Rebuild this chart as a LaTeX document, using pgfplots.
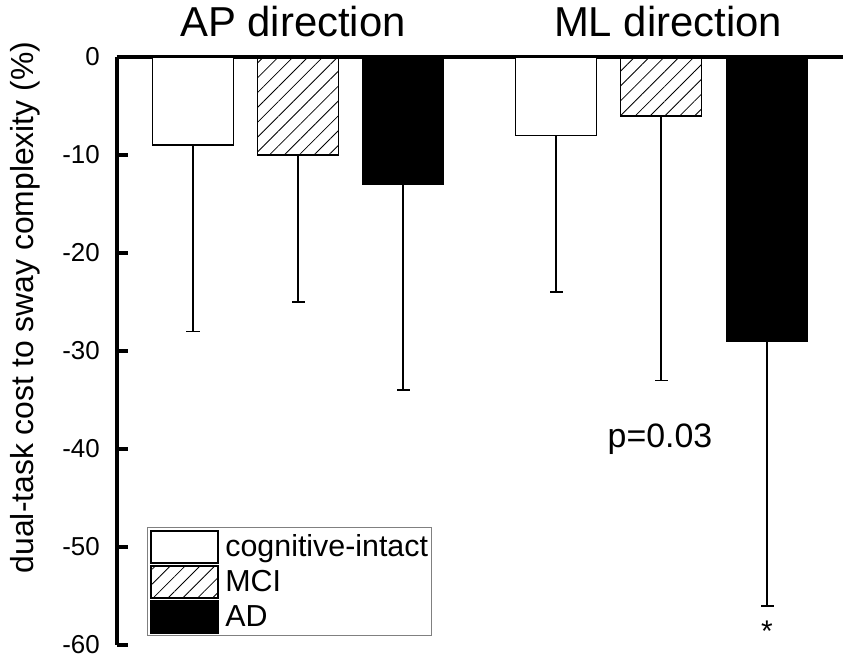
\documentclass[border=0pt]{standalone}
\usepackage{fontspec}
\setmainfont{Liberation Sans}
\usepackage{pgfplots}
\pgfplotsset{compat=1.18}
\usetikzlibrary{patterns.meta}

\pgfplotsset{
  myleg/.style={legend image code/.code={\draw[##1, line width=2bp] (0bp,-16bp) rectangle (67bp,16bp);}},
  mybar/.style={draw=black, line width=1.5bp, bar width=81, bar shift=0pt,
    error bars/y dir=minus, error bars/y explicit, error bars/error mark=|,
    error bars/error bar style={line width=1.5bp, black},
    error bars/error mark options={line width=1.5bp, mark size=6.5bp, black}},
}

\begin{document}
\begin{tikzpicture}
\begin{axis}[
  scale only axis, width=726bp, height=588bp,
  xmin=117, xmax=843, ymin=-60, ymax=0,
  clip=false,
  ybar,
  axis x line=top, axis y line=left,
  axis line style={-, line width=3.5bp},
  xtick=\empty,
  ytick={0,-10,-20,-30,-40,-50,-60},
  tick align=inside,
  major tick length=11bp,
  tick style={line width=3.5bp, black},
  /pgf/number format/assume math mode=true,
  yticklabel style={font=\fontsize{26}{30}\selectfont, inner sep=0pt, xshift=-17bp},
  ylabel={dual-task cost to sway complexity (\%)},
  ylabel style={at={([xshift=-107bp]rel axis cs:0,0.574)}, anchor=north, inner sep=0pt, font=\fontsize{32}{36}\selectfont},
  legend style={at={(rel axis cs:0.0413,0.0153)}, anchor=south west, draw=gray, line width=0.8bp,
    inner xsep=3bp, inner ysep=2bp, row sep=1bp, column sep=6bp,
    font=\fontsize{30.5}{33}\selectfont, cells={anchor=west}, nodes={inner sep=0bp}},
]
\addplot[mybar, fill=white, myleg] coordinates {(193,-9) +- (0,19) (556,-8) +- (0,16)};
\addplot[mybar, pattern={Lines[angle=45,distance=10.5bp,line width=0.8bp]}, myleg] coordinates {(298,-10) +- (0,15) (661,-6) +- (0,27)};
\addplot[mybar, fill=black, myleg] coordinates {(403,-13) +- (0,21) (767,-29) +- (0,27)};
\legend{cognitive-intact, MCI, AD}
\node[font=\fontsize{42}{46}\selectfont, anchor=base, yshift=20bp] at (axis cs:293,0) {AP direction};
\node[font=\fontsize{42}{46}\selectfont, anchor=base, yshift=20bp] at (axis cs:668,0) {ML direction};
\node[font=\fontsize{34}{38}\selectfont, anchor=base] at (axis cs:660,-39.8) {p=0.03};
\node[font=\fontsize{30}{34}\selectfont, anchor=base] at (axis cs:767,-59.6) {*};
\coordinate (bl) at (rel axis cs:0,0);
\end{axis}
\pgfresetboundingbox
\path (bl) ++(-117bp,-17bp) rectangle ++(851bp,662bp);
\end{tikzpicture}
\end{document}
